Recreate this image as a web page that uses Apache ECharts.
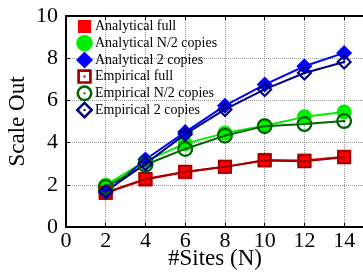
<!DOCTYPE html>
<html>
<head>
<meta charset="utf-8">
<script src="https://cdn.jsdelivr.net/npm/echarts@6/dist/echarts.min.js"></script>
<style>
  html, body { margin: 0; padding: 0; background: #fff; }
  #chart { width: 363px; height: 275px; }
</style>
</head>
<body>
<div id="chart"></div>
<script>
const sites = [2, 4, 6, 8, 10, 12, 14];
const analyticalFull = [1.62, 2.25, 2.6, 2.85, 3.18, 3.15, 3.33];
const analyticalHalf = [1.98, 3.12, 3.95, 4.45, 4.8, 5.22, 5.45];
const analyticalTwo = [1.65, 3.2, 4.5, 5.75, 6.75, 7.62, 8.25];
const empiricalFull = [1.62, 2.28, 2.62, 2.85, 3.15, 3.12, 3.3];
const empiricalHalf = [1.9, 2.95, 3.7, 4.33, 4.78, 4.88, 5.02];
const empiricalTwo = [1.68, 3.0, 4.4, 5.57, 6.52, 7.3, 7.82];
const yTicks = [0, 2, 4, 6, 8, 10];

const font = "Liberation Serif";
const pts = (ys) => sites.map((x, i) => [x, ys[i]]);

// hollow markers with a dot in the middle (hole is transparent)
const ringRect = "path://M0,0H14V14H0Z M2,2V12H12V2Z M6,6H8V8H6Z";
const ringCircle = "path://M0,7A7,7 0 1,1 14,7A7,7 0 1,1 0,7Z M2,7A5,5 0 1,0 12,7A5,5 0 1,0 2,7Z M6,6H8V8H6Z";
const ringDiamond = "path://M7,0L14,7L7,14L0,7Z M7,2.6L2.6,7L7,11.4L11.4,7Z M6,6H8V8H6Z";

// legend icons drawn in an 18x18 frame (corner points keep the frame)
const frame = "M0,0h0M18,18h0";
const legendIcons = [
  "path://" + frame + "M2.5,2.5H15.5V15.5H2.5Z",
  "path://" + frame + "M0.75,9A8.25,8.25 0 1,1 17.25,9A8.25,8.25 0 1,1 0.75,9Z",
  "path://" + frame + "M9,0.5L17.5,9L9,17.5L0.5,9Z",
  "path://" + frame + "M1.75,1.75H16.25V16.25H1.75Z M4.45,4.45V13.55H13.55V4.45Z M8,8H10V10H8Z",
  "path://" + frame + "M1,9A8,8 0 1,1 17,9A8,8 0 1,1 1,9Z M3.5,9A5.5,5.5 0 1,0 14.5,9A5.5,5.5 0 1,0 3.5,9Z M8,8H10V10H8Z",
  "path://" + frame + "M9,0L18,9L9,18L0,9Z M9,3.6L3.6,9L9,14.4L14.4,9Z M8,8H10V10H8Z",
];
const names = [
  "Analytical full", "Analytical N/2 copies", "Analytical 2 copies",
  "Empirical full", "Empirical N/2 copies", "Empirical 2 copies",
];

function line(name, ys, color, symbol, size, z) {
  return {
    name: name,
    type: "line",
    data: pts(ys),
    symbol: symbol,
    symbolSize: size,
    showAllSymbol: true,
    lineStyle: { color: color, width: 2 },
    itemStyle: { color: color, borderWidth: 0 },
    z: z,
  };
}

const chart = echarts.init(document.getElementById("chart"));
chart.setOption({
  animation: false,
  textStyle: { fontFamily: font },
  grid: {
    left: 66, right: -1, top: 16, bottom: 48,
    outerBoundsMode: "none",
    containLabel: false,
    show: true, borderColor: "#000", borderWidth: 2,
  },
  legend: {
    orient: "vertical",
    left: 70.5, top: 12.5,
    itemWidth: 18, itemHeight: 18, itemGap: -1.3,
    selectedMode: false,
    textStyle: { fontFamily: font, fontSize: 14, color: "#000", padding: [0, 0, 0, -3.5] },
    itemStyle: { borderWidth: 0 },
    data: names.map((n, i) => ({ name: n, icon: legendIcons[i] })),
  },
  xAxis: [
    {
      type: "value", min: 0, max: 15, interval: 2,
      name: "#Sites (N)", nameLocation: "middle", nameGap: 20,
      nameMoveOverlap: false,
      nameTextStyle: { fontFamily: font, fontSize: 23, color: "#000" },
      axisLine: { lineStyle: { color: "#000", width: 2 } },
      axisTick: { inside: true, length: 4, lineStyle: { color: "#000" } },
      axisLabel: {
        fontFamily: font, fontSize: 22, color: "#000", margin: 3,
        formatter: (v) => (v > 14 ? "" : v),
      },
      splitLine: { lineStyle: { color: "#999", type: "dotted" } },
    },
    {
      type: "value", min: 0, max: 15, interval: 2, position: "top",
      axisLine: { lineStyle: { color: "#000", width: 2 } },
      axisTick: { inside: true, length: 4, lineStyle: { color: "#000" } },
      axisLabel: { show: false },
      splitLine: { show: false },
    },
  ],
  yAxis: {
    type: "value", min: yTicks[0], max: yTicks[yTicks.length - 1], interval: 2,
    name: "Scale Out", nameLocation: "middle", nameGap: 37,
    nameMoveOverlap: false,
    nameTextStyle: { fontFamily: font, fontSize: 23, color: "#000" },
    axisLine: { lineStyle: { color: "#000", width: 2 } },
    axisTick: { inside: true, length: 4, lineStyle: { color: "#000" } },
    axisLabel: { fontFamily: font, fontSize: 22, color: "#000", margin: 8 },
    splitLine: { lineStyle: { color: "#999", type: "dotted" } },
  },
  series: [
    line(names[0], analyticalFull, "#ff0000", "rect", 14, 2),
    line(names[1], analyticalHalf, "#00ee00", "circle", 15, 2),
    line(names[2], analyticalTwo, "#0000ff", "diamond", 16, 2),
    line(names[3], empiricalFull, "#a00000", ringRect, 14, 3),
    line(names[4], empiricalHalf, "#006400", ringCircle, 16, 3),
    line(names[5], empiricalTwo, "#000080", ringDiamond, 16, 3),
  ],
});
</script>
</body>
</html>
